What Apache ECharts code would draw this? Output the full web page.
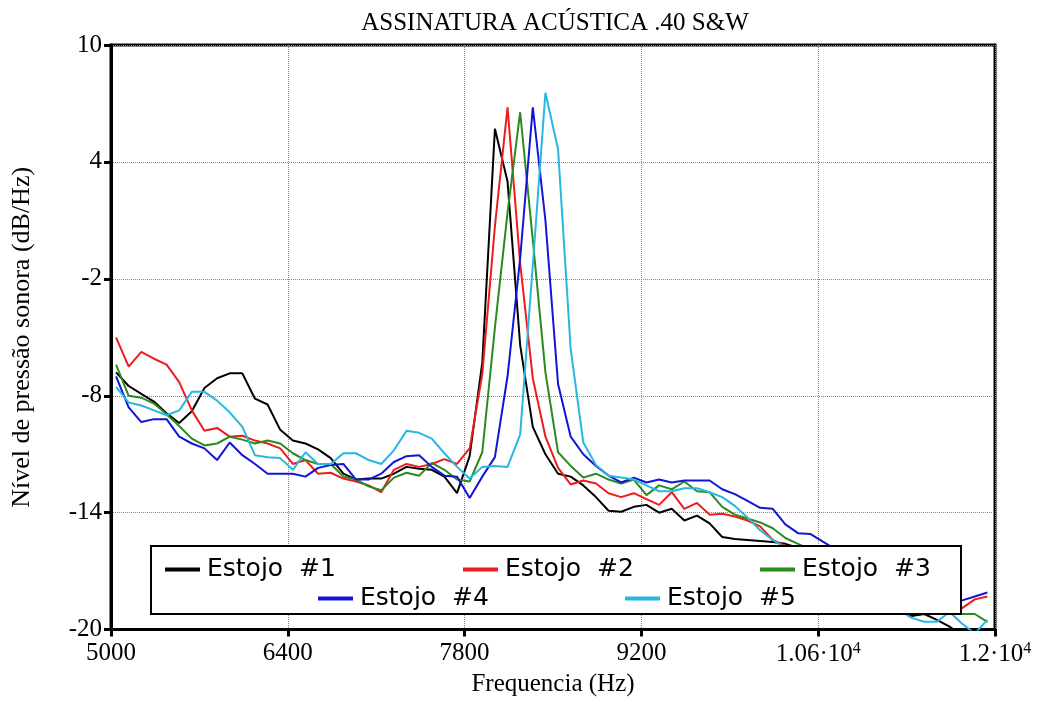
<!DOCTYPE html>
<html>
<head>
<meta charset="utf-8">
<script src="https://cdn.jsdelivr.net/npm/echarts@6/dist/echarts.min.js"></script>
<style>html,body{margin:0;padding:0;background:#fff}#c{width:1038px;height:702px}</style>
</head>
<body>
<div id="c"></div>
<script>
const freqs = [5040,5140,5240,5340,5440,5540,5640,5740,5840,5940,6040,6140,6240,6340,6440,6540,6640,6740,6840,6940,
7040,7140,7240,7340,7440,7540,7640,7740,7840,7940,8040,8140,8240,8340,8440,8540,8640,8740,8840,8940,
9040,9140,9240,9340,9440,9540,9640,9740,9840,9940,10040,10140,10240,10340,10440,10540,10640,10740,10840,10940,
11040,11140,11240,11340,11440,11540,11640,11740,11840,11940];

const estojo1 = [-6.8,-7.5,-7.9,-8.3,-8.9,-9.4,-8.8,-7.6,-7.1,-6.85,-6.85,-8.15,-8.45,-9.75,-10.3,-10.45,-10.75,-11.2,-12.0,-12.3,
-12.25,-12.25,-12.0,-11.65,-11.75,-11.8,-12.15,-13.0,-11.1,-6.3,5.7,3.0,-5.4,-9.6,-11.0,-12.0,-12.15,-12.6,-13.2,-13.9,
-13.95,-13.7,-13.6,-14.0,-13.8,-14.4,-14.15,-14.55,-15.25,-15.35,-15.4,-15.45,-15.5,-15.6,-15.8,-16.0,-16.3,-16.6,-16.9,-17.3,
-17.7,-18.3,-19.0,-19.3,-19.2,-19.5,-19.85,-20.3,-20.6,-20.8];

const estojo2 = [-5.0,-6.5,-5.75,-6.1,-6.4,-7.3,-8.75,-9.8,-9.65,-10.1,-10.05,-10.3,-10.45,-10.7,-11.5,-11.3,-12.0,-11.95,-12.25,-12.4,
-12.6,-12.95,-11.8,-11.5,-11.65,-11.5,-11.25,-11.5,-10.7,-6.9,0.7,6.8,-1.2,-7.1,-10.1,-11.7,-12.55,-12.35,-12.5,-13.0,
-13.2,-13.0,-13.3,-13.6,-12.95,-13.8,-13.5,-14.1,-14.05,-14.2,-14.4,-14.7,-15.4,-15.7,-15.9,-16.1,-16.4,-16.6,-16.9,-17.1,
-17.4,-17.6,-17.9,-18.1,-18.3,-18.5,-18.6,-18.9,-18.45,-18.3];

const estojo3 = [-6.4,-8.0,-8.1,-8.4,-8.95,-9.55,-10.2,-10.55,-10.45,-10.1,-10.25,-10.45,-10.3,-10.45,-10.95,-11.3,-11.5,-11.5,-12.15,-12.3,
-12.65,-12.85,-12.2,-11.95,-12.1,-11.45,-11.8,-12.3,-12.4,-10.9,-4.5,1.4,6.55,0.0,-6.8,-10.9,-11.6,-12.2,-12.0,-12.3,
-12.5,-12.3,-13.1,-12.6,-12.8,-12.4,-12.9,-12.95,-13.7,-14.1,-14.3,-14.5,-14.8,-15.3,-15.6,-15.9,-16.2,-16.5,-16.8,-17.1,
-17.4,-17.7,-18.0,-18.3,-18.6,-18.8,-19.0,-19.2,-19.2,-19.6];

const estojo4 = [-7.0,-8.6,-9.35,-9.2,-9.2,-10.1,-10.45,-10.7,-11.3,-10.4,-11.05,-11.5,-12.0,-12.0,-12.0,-12.15,-11.7,-11.55,-11.5,-12.3,
-12.3,-12.0,-11.4,-11.1,-11.05,-11.65,-12.1,-12.15,-13.25,-12.15,-11.15,-7.0,-0.95,6.8,1.0,-7.4,-10.1,-11.0,-11.6,-12.1,
-12.45,-12.2,-12.45,-12.3,-12.45,-12.35,-12.35,-12.35,-12.8,-13.05,-13.4,-13.75,-13.8,-14.6,-15.05,-15.1,-15.5,-15.9,-16.3,-16.7,
-17.0,-17.3,-17.6,-17.9,-18.1,-18.3,-18.5,-18.5,-18.3,-18.1];

const estojo5 = [-7.55,-8.35,-8.5,-8.75,-9.0,-8.75,-7.8,-7.8,-8.25,-8.85,-9.6,-11.05,-11.15,-11.2,-11.8,-10.9,-11.5,-11.5,-10.95,-10.95,
-11.3,-11.5,-10.8,-9.8,-9.9,-10.2,-10.95,-11.65,-12.25,-11.65,-11.6,-11.65,-10.0,-1.3,7.55,4.65,-5.6,-10.4,-11.55,-12.1,
-12.2,-12.3,-12.6,-12.9,-12.9,-12.75,-12.75,-12.95,-13.2,-13.65,-14.25,-14.9,-15.4,-15.8,-16.2,-16.6,-17.0,-17.3,-17.6,-17.9,
-18.2,-18.5,-19.0,-19.4,-19.6,-19.6,-19.1,-19.7,-20.2,-19.5];

const seriesNames = ['Estojo  #1','Estojo  #2','Estojo  #3','Estojo  #4','Estojo  #5'];
const seriesColors = ['#000000','#ee1c1c','#2a8a1e','#1414d8','#26b8e0'];
const xTicks = [5000,6400,7800,9200,10600,12000];
const xTickLabels = ['5000','6400','7800','9200','1.06·10{sup|4}','1.2·10{sup|4}'];
const yTicks = [10,4,-2,-8,-14,-20];
const yTickLabels = ['10','4','-2','-8','-14','-20'];

const allValues = [estojo1, estojo2, estojo3, estojo4, estojo5];
const serif = 'Liberation Serif';
const sans = 'DejaVu Sans';

const legendPos = [[165,557],[463,557],[760,557],[318,586],[625,586]];

const chart = echarts.init(document.getElementById('c'), null, {renderer:'canvas'});
chart.setOption({
  animation: false,
  backgroundColor: '#fff',
  title: {
    text: 'ASSINATURA ACÚSTICA .40 S&W',
    left: 550, textAlign: 'center', top: 6,
    textStyle: {fontFamily: serif, fontWeight: 'normal', fontSize: 25, color: '#000'}
  },
  grid: {left: 111, right: 43, top: 45, bottom: 68, show: true, borderColor: '#000', borderWidth: 3, backgroundColor: 'transparent'},
  legend: seriesNames.map((n, i) => ({
    data: [n], left: legendPos[i][0], top: legendPos[i][1], orient: 'horizontal', z: 200,
    icon: 'rect', itemWidth: 35, itemHeight: 4, itemGap: 0, padding: 0,
    textStyle: {fontFamily: sans, fontSize: 25, color: '#000', padding: [0,0,0,2]}
  })),
  graphic: [{
    type: 'rect', left: 150, top: 545, z: 150,
    shape: {width: 810, height: 68},
    style: {fill: '#fff', stroke: '#000', lineWidth: 2}
  }],
  xAxis: {
    type: 'value', min: 5000, max: 12000, interval: 1400,
    name: 'Frequencia (Hz)', nameLocation: 'middle', nameGap: 42,
    nameTextStyle: {fontFamily: serif, fontSize: 25, color: '#000'},
    axisLine: {onZero: false, lineStyle: {color: '#000', width: 3}},
    axisTick: {show: true, length: 7, lineStyle: {color: '#000', width: 3}},
    axisLabel: {
      fontFamily: serif, fontSize: 25, color: '#000', margin: 11,
      formatter: v => { const i = xTicks.indexOf(v); return i >= 0 ? xTickLabels[i] : ''; },
      rich: {sup: {fontFamily: serif, fontSize: 16, verticalAlign: 'top', padding: [0,0,12,0], color: '#000'}}
    },
    splitLine: {show: true, lineStyle: {color: '#888', type: 'dotted', width: 1}}
  },
  yAxis: {
    type: 'value', min: -20, max: 10, interval: 6,
    name: 'Nível de pressão sonora (dB/Hz)', nameLocation: 'middle', nameGap: 76, nameRotate: 90,
    nameTextStyle: {fontFamily: serif, fontSize: 26, color: '#000'},
    axisLine: {show: true, onZero: false, lineStyle: {color: '#000', width: 3}},
    axisTick: {show: true, length: 7, lineStyle: {color: '#000', width: 3}},
    axisLabel: {
      fontFamily: serif, fontSize: 25, color: '#000', margin: 9,
      formatter: v => { const i = yTicks.indexOf(v); return i >= 0 ? yTickLabels[i] : ''; }
    },
    splitLine: {show: true, lineStyle: {color: '#888', type: 'dotted', width: 1}}
  },
  series: seriesNames.map((n, i) => ({
    name: n, type: 'line', showSymbol: false, symbol: 'none', clip: true,
    data: freqs.map((f, k) => [f, allValues[i][k]]),
    lineStyle: {color: seriesColors[i], width: 2},
    itemStyle: {color: seriesColors[i]},
    z: 2
  }))
});
</script>
</body>
</html>
